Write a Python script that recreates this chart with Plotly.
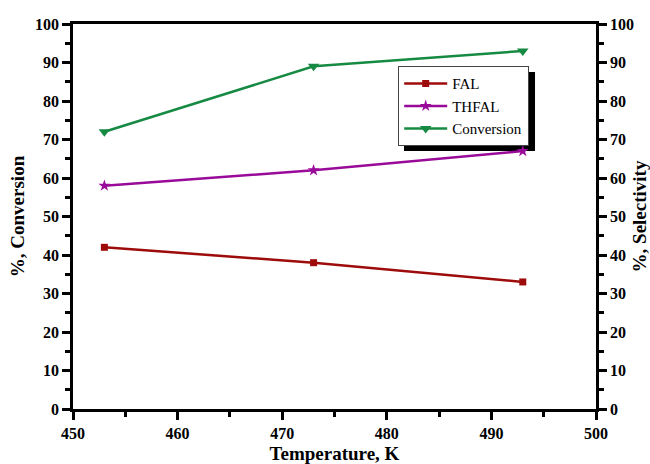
import plotly.graph_objects as go

# Reaction temperature (K)
temperature = [453, 473, 493]
# Selectivity (%)
fal = [42, 38, 33]
thfal = [58, 62, 67]
# Furfural conversion (%)
conversion = [72, 89, 93]

x_ticks = [450, 460, 470, 480, 490, 500]
y_ticks = [0, 10, 20, 30, 40, 50, 60, 70, 80, 90, 100]

FONT = "Liberation Serif"
RED = "#9E0B0B"
PURPLE = "#990A99"
GREEN = "#168A42"

fig = go.Figure()
fig.add_trace(go.Scatter(
    x=temperature, y=fal, name="FAL", yaxis="y2", mode="lines+markers",
    line=dict(color=RED, width=2.5), marker=dict(symbol="square", size=7, color=RED)))
fig.add_trace(go.Scatter(
    x=temperature, y=thfal, name="THFAL", yaxis="y2", mode="lines+markers",
    line=dict(color=PURPLE, width=2.5), marker=dict(symbol="star", size=9, color=PURPLE)))
fig.add_trace(go.Scatter(
    x=temperature, y=conversion, name="Conversion", yaxis="y", mode="lines+markers",
    line=dict(color=GREEN, width=2.5), marker=dict(symbol="triangle-down", size=10, color=GREEN)))


def bold(vals):
    return [f"<b>{v}</b>" for v in vals]


def axis_style():
    return dict(
        showline=True, linecolor="black", linewidth=2.5,
        ticks="outside", ticklen=8, tickwidth=2.5, tickcolor="black",
        showgrid=False, zeroline=False, automargin=False,
        tickfont=dict(family=FONT, size=16, color="black", weight="bold"),
    )


def minor_ticks(**kw):
    return dict(ticks="outside", ticklen=5, tickwidth=2.5, tickcolor="black", **kw)


titlefont = dict(family=FONT, size=19, color="black", weight="bold")

fig.update_layout(
    width=650, height=464,
    margin=dict(l=73, r=54, t=24, b=55),
    paper_bgcolor="white", plot_bgcolor="white",
    font=dict(family=FONT, color="black", size=15),
    xaxis=dict(
        range=[450, 500], tickvals=x_ticks, ticktext=bold(x_ticks), mirror=True,
        minor=minor_ticks(dtick=5, tick0=450),
        title=dict(text="Temperature, K", font=titlefont, standoff=7),
        **axis_style(),
    ),
    yaxis=dict(
        range=[0, 100], tickvals=y_ticks, ticktext=bold(y_ticks),
        minor=minor_ticks(dtick=5),
        title=dict(text="%, Conversion", font=titlefont, standoff=6),
        **axis_style(),
    ),
    yaxis2=dict(
        range=[0, 100], tickvals=y_ticks, ticktext=bold(y_ticks),
        overlaying="y", side="right",
        minor=minor_ticks(dtick=5),
        title=dict(text="%, Selectivity", font=titlefont, standoff=6),
        **axis_style(),
    ),
    legend=dict(
        x=0.6214, y=0.891, xanchor="left", yanchor="top",
        bgcolor="white", bordercolor="#444444", borderwidth=1.2,
        font=dict(family=FONT, size=15, color="black"),
        tracegroupgap=0, itemwidth=43,
    ),
    showlegend=True,
)

# Drop shadow behind the legend box
fig.add_shape(type="rect", xref="paper", yref="paper", layer="below",
              x0=0.6329, x1=0.8834, y0=0.6701, y1=0.8753,
              fillcolor="black", line=dict(width=0))

fig.write_html("out.html")
